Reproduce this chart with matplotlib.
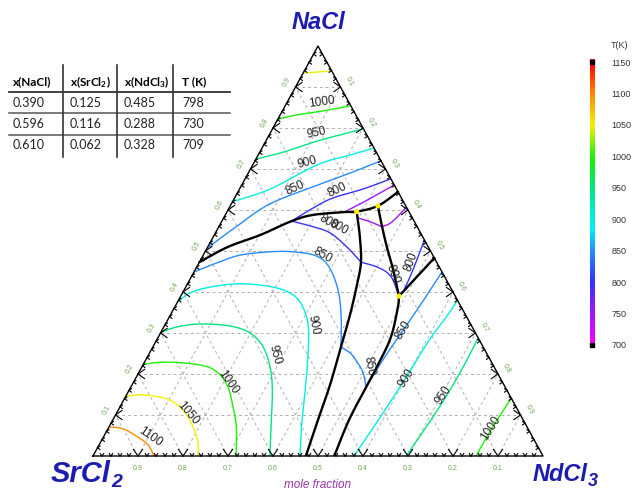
import numpy as np
import matplotlib
matplotlib.use("Agg")
import matplotlib.pyplot as plt
from matplotlib.colors import LinearSegmentedColormap, Normalize

plt.rcParams['font.family'] = ['Liberation Sans', 'DejaVu Sans']
plt.rcParams['mathtext.default'] = 'regular'

W, H = 633, 491

# ---------------- data ----------------
# invariant points (table)
inv_nacl = [0.390, 0.596, 0.610]
inv_srcl2 = [0.125, 0.116, 0.062]
inv_ndcl3 = [0.485, 0.288, 0.328]
inv_T = [798, 730, 709]
table_header = ['x(NaCl)', 'x(SrCl$_2$)', 'x(NdCl$_3$)', 'T (K)']

# colour scale
cbar_ticks = [700, 750, 800, 850, 900, 950, 1000, 1050, 1100, 1150]
axis_ticks = [0.1, 0.2, 0.3, 0.4, 0.5, 0.6, 0.7, 0.8, 0.9]

# isotherms, points as (x_NaCl, x_NdCl3)
nacl_1050 = [(0.934, 0.0), (0.939, 0.061)]
nacl_1000 = [(0.822, 0.0), (0.832, 0.037), (0.839, 0.076), (0.846, 0.110), (0.854, 0.146)]
nacl_950 = [(0.724, 0.0), (0.741, 0.052), (0.768, 0.114), (0.785, 0.163), (0.798, 0.202)]
nacl_900 = [(0.620, 0.0), (0.651, 0.068), (0.710, 0.143), (0.734, 0.204), (0.751, 0.249)]
nacl_850 = [(0.507, 0.0), (0.561, 0.040), (0.615, 0.086), (0.663, 0.173), (0.690, 0.226), (0.720, 0.280)]
nacl_800 = [(0.573, 0.155), (0.605, 0.187), (0.629, 0.218), (0.651, 0.274), (0.676, 0.324)]
nacl_750 = [(0.598, 0.265), (0.624, 0.297), (0.661, 0.339)]

srcl2_1100 = [(0.071, 0.0), (0.066, 0.034), (0.046, 0.077), (0.027, 0.109), (0.0, 0.136)]
srcl2_1050 = [(0.146, 0.0), (0.149, 0.037), (0.139, 0.095), (0.112, 0.144), (0.071, 0.187),
              (0.032, 0.217), (0.0, 0.233)]
srcl2_1000 = [(0.224, 0.0), (0.229, 0.050), (0.222, 0.127), (0.205, 0.173), (0.168, 0.216),
              (0.120, 0.251), (0.071, 0.283), (0.0, 0.318)]
srcl2_950 = [(0.302, 0.0), (0.315, 0.030), (0.322, 0.077), (0.317, 0.146), (0.300, 0.199),
             (0.266, 0.245), (0.217, 0.285), (0.161, 0.318), (0.080, 0.356), (0.0, 0.393)]
srcl2_900 = [(0.376, 0.0), (0.398, 0.017), (0.412, 0.054), (0.420, 0.117), (0.412, 0.194),
             (0.393, 0.248), (0.363, 0.285), (0.315, 0.321), (0.241, 0.357), (0.161, 0.391),
             (0.080, 0.424), (0.0, 0.460)]
srcl2_850 = [(0.449, 0.0), (0.471, 0.040), (0.490, 0.082), (0.498, 0.144), (0.498, 0.195),
             (0.488, 0.252), (0.461, 0.294), (0.405, 0.342), (0.339, 0.382), (0.266, 0.418)]
srcl2_800 = [(0.573, 0.155), (0.559, 0.210), (0.544, 0.255), (0.510, 0.309), (0.473, 0.359)]

mid_850 = [(0.266, 0.418), (0.251, 0.446), (0.234, 0.467), (0.205, 0.497), (0.168, 0.523)]
mid_800 = [(0.473, 0.359), (0.459, 0.406), (0.437, 0.444), (0.390, 0.485)]
mid_750 = [(0.580, 0.301), (0.571, 0.331), (0.559, 0.363)]

small_800 = [(0.405, 0.489), (0.454, 0.484), (0.527, 0.473)]
small_750 = [(0.559, 0.363), (0.571, 0.379), (0.607, 0.393)]

ndcl3_850 = [(0.168, 0.523), (0.234, 0.527), (0.278, 0.532), (0.324, 0.538), (0.385, 0.545),
             (0.449, 0.551)]
ndcl3_900 = [(0.0, 0.580), (0.105, 0.592), (0.193, 0.600), (0.283, 0.606), (0.349, 0.617),
             (0.380, 0.620)]
ndcl3_950 = [(0.0, 0.696), (0.071, 0.705), (0.144, 0.712), (0.217, 0.714), (0.288, 0.712)]
ndcl3_1000 = [(0.0, 0.851), (0.071, 0.853), (0.141, 0.859)]

# phase boundaries (x_NaCl, x_NdCl3)
bound_top = [(0.473, 0.0), (0.510, 0.045), (0.539, 0.102), (0.573, 0.155), (0.588, 0.195),
             (0.595, 0.262), (0.596, 0.288), (0.610, 0.328), (0.644, 0.356)]
bound_y1_down = [(0.596, 0.288), (0.534, 0.326), (0.473, 0.359), (0.417, 0.378), (0.344, 0.399),
                 (0.266, 0.418), (0.173, 0.440), (0.088, 0.456), (0.0, 0.473)]
bound_y2_y3 = [(0.610, 0.328), (0.559, 0.363), (0.510, 0.398), (0.454, 0.440), (0.390, 0.485)]
bound_y3_down = [(0.390, 0.485), (0.363, 0.496), (0.290, 0.517), (0.222, 0.522), (0.168, 0.523),
                 (0.088, 0.525), (0.0, 0.536)]
bound_y3_edge = [(0.390, 0.485), (0.483, 0.517)]

isotherms = [
    (1050, nacl_1050), (1000, nacl_1000), (950, nacl_950), (900, nacl_900), (850, nacl_850),
    (800, nacl_800), (750, nacl_750),
    (1100, srcl2_1100), (1050, srcl2_1050), (1000, srcl2_1000), (950, srcl2_950),
    (900, srcl2_900), (850, srcl2_850), (800, srcl2_800),
    (850, mid_850), (800, mid_800), (750, mid_750), (800, small_800), (750, small_750),
    (850, ndcl3_850), (900, ndcl3_900), (950, ndcl3_950), (1000, ndcl3_1000),
]
boundaries = [bound_top, bound_y1_down, bound_y2_y3, bound_y3_down, bound_y3_edge]

# ---------------- helpers ----------------
def tern(pts):
    pts = np.asarray(pts, float)
    a, c = pts[:, 0], pts[:, 1]
    return c + a / 2.0, a


def smooth(x, y, n=12):
    if len(x) < 3:
        return x, y
    P = np.column_stack([x, y])
    P = np.vstack([2 * P[0] - P[1], P, 2 * P[-1] - P[-2]])
    out = []
    for i in range(1, len(P) - 2):
        p0, p1, p2, p3 = P[i - 1], P[i], P[i + 1], P[i + 2]
        for t in np.linspace(0, 1, n, endpoint=False):
            t2, t3 = t * t, t * t * t
            out.append(0.5 * ((2 * p1) + (-p0 + p2) * t + (2 * p0 - 5 * p1 + 4 * p2 - p3) * t2
                              + (-p0 + 3 * p1 - 3 * p2 + p3) * t3))
    out.append(P[-2])
    out = np.array(out)
    return out[:, 0], out[:, 1]


def F(x, y):
    return x / W, 1 - y / H


cmap = LinearSegmentedColormap.from_list('tk', [
    (0.0, (1.0, 0.0, 1.0)), (60 / 450, (0.55, 0.1, 1.0)), (100 / 450, (0.2, 0.2, 1.0)),
    (150 / 450, (0.15, 0.55, 1.0)), (185 / 450, (0.0, 0.95, 1.0)), (250 / 450, (0.0, 0.9, 0.5)),
    (300 / 450, (0.1, 0.95, 0.0)), (350 / 450, (0.95, 0.95, 0.0)), (400 / 450, (1.0, 0.55, 0.0)),
    (1.0, (1.0, 0.0, 0.0))])
norm = Normalize(700, 1150)

fig = plt.figure(figsize=(W / 100, H / 100), dpi=100)
ax = fig.add_axes([93 / W, 35 / H, 450 / W, 410 / H])
ax.set_xlim(0, 1)
ax.set_ylim(0, 1)
ax.axis('off')
sx, sy = 1 / 450, 1 / 410

# grid
for v in axis_ticks:
    kw = dict(color='#b0b0b0', lw=0.7, ls=(0, (3, 3)), zorder=1)
    ax.plot(*tern([(v, 0), (v, 1 - v)]), **kw)
    ax.plot(*tern([(0, v), (1 - v, v)]), **kw)
    ax.plot(*tern([(0, 1 - v), (1 - v, 0)]), **kw)

# triangle
ax.plot([0, 1, 0.5, 0], [0, 0, 1, 0], color='black', lw=1.0, zorder=5, clip_on=False)

# ticks
def arrow(x, y, dx, dy, L):
    ang = np.deg2rad(35)
    d = np.array([dx, dy], float)
    d /= np.linalg.norm(d)
    for s in (1, -1):
        r = np.array([d[0] * np.cos(s * ang) - d[1] * np.sin(s * ang),
                      d[0] * np.sin(s * ang) + d[1] * np.cos(s * ang)])
        ax.plot([x, x + r[0] * L * sx], [y, y + r[1] * L * sy], color='black', lw=0.8,
                zorder=5, clip_on=False)

minor = [k / 50 for k in range(1, 50) if k % 5 != 0]
for v in axis_ticks:
    arrow(v / 2, v, 1, 0, 8)
    arrow(1 - v / 2, v, -1, 0, 8)
    arrow(v, 0, 0, 1, 8)
for v in minor:
    arrow(v / 2, v, 1, 0, 3)
    arrow(1 - v / 2, v, -1, 0, 3)
    arrow(v, 0, 0, 1, 3)

# tick labels
lab_col = '#6aa84f'
for v in axis_ticks:
    ax.text(v / 2 - 8.5 * sx, v + 5 * sy, f'{v:.1f}', rotation=61, color=lab_col,
            fontsize=5, ha='center', va='center', clip_on=False)
    ax.text(1 - v / 2 + 8.5 * sx, v + 5 * sy, f'{1 - v:.1f}', rotation=-61, color=lab_col,
            fontsize=5, ha='center', va='center', clip_on=False)
    ax.text(v, -12 * sy, f'{1 - v:.1f}', color=lab_col, fontsize=5, ha='center',
            va='center', clip_on=False)

# isotherms
for T, pts in isotherms:
    x, y = smooth(*tern(pts))
    ax.plot(x, y, color=cmap(norm(T)), lw=1.0, zorder=2, solid_capstyle='butt')

for pts in boundaries:
    x, y = smooth(*tern(pts))
    ax.plot(x, y, color='black', lw=1.7, zorder=3, solid_capstyle='round')

ipx, ipy = tern(list(zip(inv_nacl, inv_ndcl3)))
ax.scatter(ipx, ipy, s=14, color='#ffee00', zorder=4, edgecolors='none')

# contour labels (text, x px, y px, rotation)
clabels = [('1000', 322, 102, 8), ('950', 317, 133, 12), ('900', 307, 163, 15),
           ('850', 295, 188, 25), ('800', 337, 190, 25),
           ('1100', 150, 437, -35), ('1050', 188, 413, -50), ('1000', 228, 382, -55),
           ('950', 275, 355, -75), ('900', 313, 325, -78), ('850', 323, 255, -30),
           ('800', 329, 222, -30), ('800', 339, 227, -30),
           ('800', 393, 274, -70), ('850', 369, 366, -80), ('800', 411, 262, 70),
           ('850', 403, 330, 58), ('900', 406, 378, 57), ('950', 443, 395, 57),
           ('1000', 491, 428, 57)]
for t, x, y, r in clabels:
    fig.text(*F(x, y), t, rotation=r, fontsize=8.5, color='#222222', ha='center',
             va='center', zorder=6)

# vertex labels
vcol = '#1c1cb0'
vkw = dict(fontweight='bold', fontstyle='italic', color=vcol, va='baseline')
fig.text(*F(318, 29), 'NaCl', fontsize=17, ha='center', **vkw)
fig.text(*F(111, 482), 'SrCl', fontsize=21, ha='right', **vkw)
fig.text(*F(111, 487), '2', fontsize=14, ha='left', **vkw)
fig.text(*F(588, 481), 'NdCl', fontsize=17, ha='right', **vkw)
fig.text(*F(588, 486), '3', fontsize=13, ha='left', **vkw)
fig.text(*F(318, 485), 'mole fraction', fontsize=8.5, fontstyle='italic', color='#9a35a8',
         ha='center', va='center')

# table
col_x = [13, 70, 124, 182]
row_y = [82, 103, 124, 145]
rows = [[f'{a:.3f}', f'{b:.3f}', f'{c:.3f}', f'{t}'] for a, b, c, t in
        zip(inv_nacl, inv_srcl2, inv_ndcl3, inv_T)]
for j, h in enumerate(table_header):
    fig.text(*F(col_x[j], row_y[0]), h, fontsize=8.5, fontweight='bold', ha='left',
             va='center', family=['Lato', 'DejaVu Sans'])
for i, r in enumerate(rows):
    for j, v in enumerate(r):
        fig.text(*F(col_x[j], row_y[i + 1]), v, fontsize=9, ha='left', va='center',
                 family=['Lato', 'DejaVu Sans'], color='#222222')
tab = fig.add_axes([0, 0, 1, 1], zorder=-1)
tab.set_xlim(0, W)
tab.set_ylim(H, 0)
tab.axis('off')
tab.plot([9, 230], [92, 92], color='#333333', lw=1.3)
tab.plot([9, 230], [113, 113], color='#555555', lw=1.1)
tab.plot([9, 230], [135, 135], color='#555555', lw=1.1)
for xv in [63, 117, 173]:
    tab.plot([xv, xv], [65, 157], color='#333333', lw=1.2)

# colour bar
cb = fig.add_axes([590 / W, 1 - 348 / H, 4.5 / W, (348 - 59) / H])
grad = np.linspace(695, 1155, 300).reshape(-1, 1)
cb.imshow(grad, cmap=cmap, norm=norm, aspect='auto', origin='lower', extent=[0, 1, 695, 1155])
cb.set_ylim(695, 1155)
cb.set_xlim(0, 1)
for s in cb.spines.values():
    s.set_visible(False)
cb.set_xticks([])
cb.set_yticks(cbar_ticks)
cb.yaxis.tick_right()
cb.tick_params(axis='y', length=0, pad=12, labelsize=6.5, labelcolor='#333333')
cb.plot([0.5, 0.5], [700, 1150], ls='none', marker='s', ms=3, color='black', clip_on=False)
fig.text(*F(611, 46), 'T(K)', fontsize=6.5, color='#333333', ha='left', va='center')

fig.savefig('out.png', dpi=100)
